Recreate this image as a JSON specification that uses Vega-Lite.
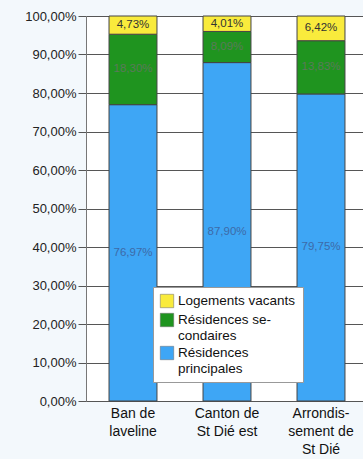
{
  "$schema": "https://vega.github.io/schema/vega-lite/v6.json",
  "width": 282,
  "height": 385,
  "autosize": {"type": "none"},
  "padding": {"left": 86, "top": 16, "right": 0, "bottom": 58},
  "background": "#f3f8fc",
  "config": {
    "view": {"stroke": null, "fill": "white"},
    "font": "Liberation Sans"
  },
  "data": {
    "values": [
      {"zone": "Ban de laveline", "type": "Résidences principales", "ord": 1, "value": 76.97},
      {"zone": "Ban de laveline", "type": "Résidences secondaires", "ord": 2, "value": 18.30},
      {"zone": "Ban de laveline", "type": "Logements vacants", "ord": 3, "value": 4.73},
      {"zone": "Canton de St Dié est", "type": "Résidences principales", "ord": 1, "value": 87.90},
      {"zone": "Canton de St Dié est", "type": "Résidences secondaires", "ord": 2, "value": 8.09},
      {"zone": "Canton de St Dié est", "type": "Logements vacants", "ord": 3, "value": 4.01},
      {"zone": "Arrondissement de St Dié", "type": "Résidences principales", "ord": 1, "value": 79.75},
      {"zone": "Arrondissement de St Dié", "type": "Résidences secondaires", "ord": 2, "value": 13.83},
      {"zone": "Arrondissement de St Dié", "type": "Logements vacants", "ord": 3, "value": 6.42}
    ]
  },
  "transform": [
    {"calculate": "replace(format(datum.value, '.2f'), '.', ',') + '%'", "as": "lab"}
  ],
  "encoding": {
    "x": {
      "field": "zone", "type": "nominal", "sort": null,
      "scale": {"paddingInner": 0.49, "paddingOuter": 0.245},
      "axis": {
        "title": null, "labelAngle": 0, "ticks": false,
        "labelFontSize": 14, "labelColor": "#111", "labelLineHeight": 18,
        "labelPadding": 5, "domainColor": "#555",
        "labelExpr": "datum.label == 'Ban de laveline' ? ['Ban de', 'laveline'] : datum.label == 'Canton de St Dié est' ? ['Canton de', 'St Dié est'] : ['Arrondis-', 'sement de', 'St Dié']"
      }
    },
    "y": {
      "field": "value", "type": "quantitative", "stack": "zero",
      "scale": {"domain": [0, 100], "nice": false},
      "axis": {
        "title": null, "values": [0, 10, 20, 30, 40, 50, 60, 70, 80, 90, 100],
        "labelExpr": "replace(format(datum.value, '.2f'), '.', ',') + '%'",
        "labelFontSize": 13, "labelColor": "#222", "tickSize": 8, "tickColor": "#555",
        "domainColor": "#777", "gridColor": "#444", "gridOpacity": 0.9,
        "labelPadding": 2
      }
    },
    "order": {"field": "ord", "type": "quantitative"}
  },
  "layer": [
    {
      "mark": {"type": "bar", "stroke": "#444", "strokeWidth": 1},
      "encoding": {
        "color": {
          "field": "type", "type": "nominal",
          "scale": {
            "domain": ["Logements vacants", "Résidences secondaires", "Résidences principales"],
            "range": ["#f9eb3c", "#1f941f", "#3ea6f5"]
          },
          "legend": {
            "title": null, "orient": "none", "legendX": 67, "legendY": 271,
            "fillColor": "white", "strokeColor": "#999", "padding": 7,
            "symbolType": "square", "symbolSize": 180, "symbolStrokeColor": "#666", "symbolStrokeWidth": 0.5,
            "labelFontSize": 13.5, "labelColor": "#111", "labelLineHeight": 16,
            "rowPadding": 3, "labelLimit": 200,
            "labelExpr": "datum.label == 'Résidences secondaires' ? ['Résidences se-', 'condaires'] : datum.label == 'Résidences principales' ? ['Résidences', 'principales'] : datum.label + '    '"
          }
        }
      }
    },
    {
      "mark": {"type": "text", "fontSize": 11.5, "baseline": "middle", "align": "center"},
      "encoding": {
        "y": {"field": "value", "type": "quantitative", "stack": "zero", "bandPosition": 0.5},
        "text": {"field": "lab"},
        "color": {
          "field": "type", "type": "nominal", "legend": null,
          "scale": {
            "domain": ["Logements vacants", "Résidences secondaires", "Résidences principales"],
            "range": ["#333333", "#5a7a5a", "#3d6aa8"]
          }
        }
      }
    }
  ],
  "resolve": {"scale": {"color": "independent"}}
}
